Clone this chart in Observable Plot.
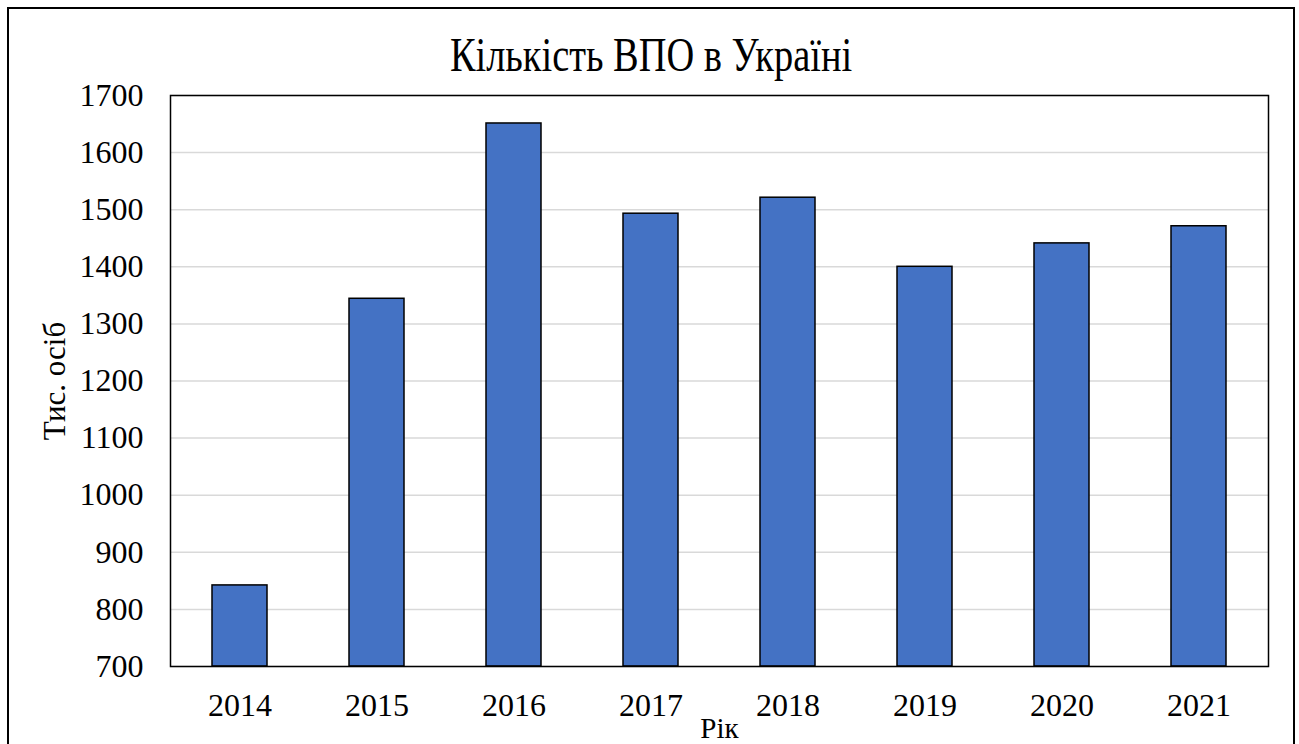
<!DOCTYPE html>
<html>
<head>
<meta charset="utf-8">
<script src="https://cdn.jsdelivr.net/npm/d3@7"></script>
<script src="https://cdn.jsdelivr.net/npm/@observablehq/plot@0.6"></script>
<style>
  body { margin: 0; background: #fff; }
  #wrap { position: relative; width: 1299px; height: 744px; overflow: hidden; background: #fff; }
  #outer { position: absolute; left: 7px; top: 7px; width: 1288px; height: 800px; border: 2px solid #000; box-sizing: border-box; }
  #title { position: absolute; left: 0; top: 37.5px; width: 1302px; text-align: center; font-family: "Liberation Serif", serif; font-size: 40px; line-height: 1; color: #000; white-space: nowrap; transform-origin: 50% 33.5px; transform: scale(0.96, 1.2); }
  #chart { position: absolute; left: 0; top: 70px; }
  #chart svg, #chart svg text { font-family: "Liberation Serif", serif; }
</style>
</head>
<body>
<div id="wrap">
  <div id="outer"></div>
  <div id="title">Кількість ВПО в Україні</div>
  <div id="chart"></div>
</div>
<script>
const years = ["2014", "2015", "2016", "2017", "2018", "2019", "2020", "2021"];
const values = [842, 1344, 1651, 1493, 1521, 1400, 1441, 1471];
const yTicks = [700, 800, 900, 1000, 1100, 1200, 1300, 1400, 1500, 1600, 1700];
const yLabel = "Тис. осіб";
const xLabel = "Рік";

const data = years.map((year, i) => ({year, value: values[i]}));
const yMin = yTicks[0];
const serif = "Liberation Serif";

const chart = Plot.plot({
  width: 1299,
  height: 674,
  marginLeft: 170,
  marginRight: 31,
  marginTop: 25,
  marginBottom: 78,
  style: {fontFamily: serif, fontSize: "32px", color: "#000", background: "transparent"},
  x: {domain: years, paddingInner: 0.6, paddingOuter: 0.3},
  y: {domain: [yTicks[0], yTicks[yTicks.length - 1]]},
  marks: [
    Plot.gridY(yTicks, {stroke: "#d9d9d9", strokeOpacity: 1, strokeWidth: 1.5}),
    Plot.barY(data, {x: "year", y1: yMin, y2: "value", fill: "#4472C4", stroke: "#000", strokeWidth: 1.5}),
    Plot.frame({stroke: "#000", strokeWidth: 1.5}),
    Plot.axisY(yTicks, {tickSize: 0, tickPadding: 27, label: null, fontSize: 32, fontFamily: serif, tickFormat: d => String(d)}),
    Plot.axisX({tickSize: 0, tickPadding: 27, label: null, fontSize: 32, fontFamily: serif}),
    Plot.text([yLabel], {frameAnchor: "left", rotate: -90, dx: -115, fontSize: 31, fontFamily: serif, textAnchor: "middle", lineAnchor: "middle"}),
    Plot.text([xLabel], {frameAnchor: "bottom", dy: 62, fontSize: 29, fontFamily: serif, textAnchor: "middle", lineAnchor: "middle"})
  ]
});
document.getElementById("chart").appendChild(chart);
</script>
</body>
</html>
